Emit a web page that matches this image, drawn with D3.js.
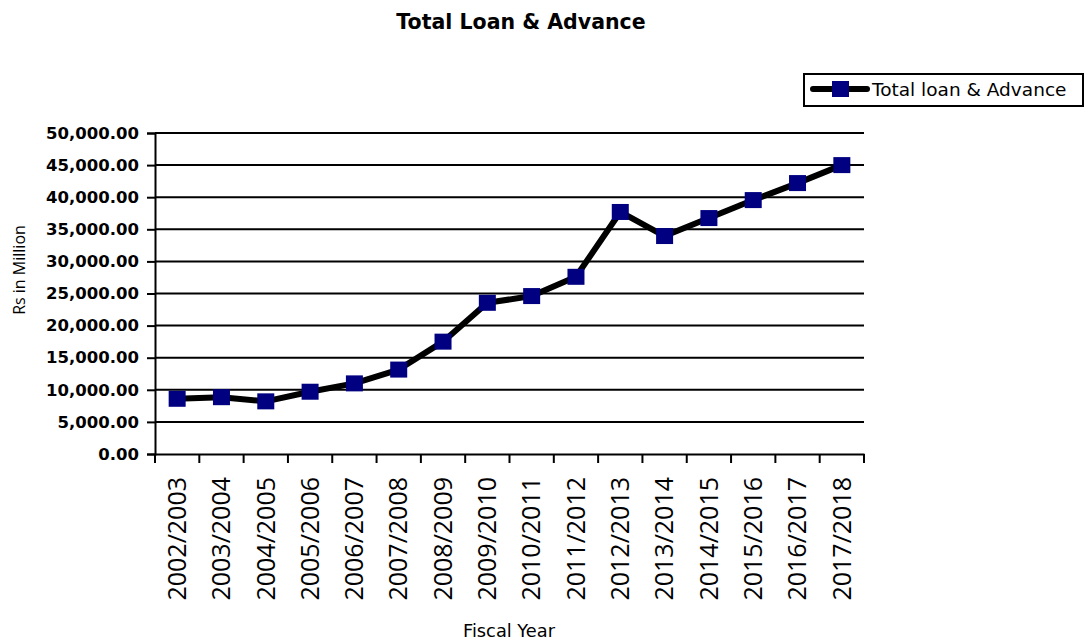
<!DOCTYPE html>
<html>
<head>
<meta charset="utf-8">
<script src="https://cdn.jsdelivr.net/npm/d3@7"></script>
<style>
  html, body { margin: 0; padding: 0; background: #fff; }
  svg { display: block; }
</style>
</head>
<body>
<svg id="chart" width="1087" height="643"></svg>
<script>
const categories = ["2002/2003","2003/2004","2004/2005","2005/2006","2006/2007","2007/2008","2008/2009","2009/2010","2010/2011","2011/2012","2012/2013","2013/2014","2014/2015","2015/2016","2016/2017","2017/2018"];
const loanValues = [8600, 8850, 8200, 9700, 11000, 13150, 17500, 23550, 24600, 27600, 37700, 33950, 36750, 39550, 42200, 45000];
const yTicks = [0, 5000, 10000, 15000, 20000, 25000, 30000, 35000, 40000, 45000, 50000];
const seriesName = "Total loan & Advance";
const titleText = "Total Loan & Advance";
const xTitle = "Fiscal Year";
const yTitle = "Rs in Million";

(function () {
const svg = d3.select("#chart");
const pLeft = 155, pRight = 864, pTop = 133, pBottom = 454;
const hFont = "'DejaVu Sans', sans-serif";
const vFont = "'Open Sans', sans-serif";

const x = d3.scaleBand().domain(categories).range([pLeft, pRight]);
const y = d3.scaleLinear().domain([0, 50000]).range([pBottom, pTop]);

// title
svg.append("text").attr("x", 521).attr("y", 29).attr("text-anchor", "middle")
  .attr("font-family", hFont).attr("font-weight", "bold").attr("font-size", 20.5)
  .text(titleText);

// gridlines
svg.append("g").selectAll("line").data(yTicks.filter(d => d > 0)).join("line")
  .attr("x1", pLeft).attr("x2", pRight).attr("y1", d => y(d)).attr("y2", d => y(d))
  .attr("stroke", "#000").attr("stroke-width", 2);

// y axis
const fmt = d3.format(",.2f");
const yAxis = svg.append("g").attr("transform", `translate(${pLeft},0)`)
  .call(d3.axisLeft(y).tickValues(yTicks).tickFormat(fmt).tickSize(8).tickPadding(8));
yAxis.select(".domain").attr("stroke", "#000").attr("stroke-width", 2);
yAxis.selectAll(".tick line").attr("stroke", "#000").attr("stroke-width", 2);
yAxis.selectAll(".tick text").attr("font-family", hFont).attr("font-weight", "bold")
  .attr("font-size", 16.5).attr("fill", "#000");

// x axis
const xAxis = svg.append("g").attr("transform", `translate(0,${pBottom})`)
  .call(d3.axisBottom(x).tickSize(0).tickFormat(d => d));
xAxis.select(".domain").attr("stroke", "#000").attr("stroke-width", 2);
const bounds = categories.map(c => x(c)).concat([pRight]);
xAxis.selectAll(".bound").data(bounds).join("line").attr("class", "bound")
  .attr("x1", d => d).attr("x2", d => d).attr("y1", 0).attr("y2", 9)
  .attr("stroke", "#000").attr("stroke-width", 2);
xAxis.selectAll(".tick text")
  .attr("font-family", vFont).attr("font-size", 25).attr("fill", "#000")
  .attr("transform", "rotate(-90)")
  .attr("text-anchor", "end").attr("dy", "0.35em").attr("x", -23).attr("y", 0);

// axis titles
svg.append("text").attr("x", 509).attr("y", 637).attr("text-anchor", "middle")
  .attr("font-family", hFont).attr("font-size", 17.8).text(xTitle);
svg.append("text").attr("transform", "translate(25,270) rotate(-90)").attr("text-anchor", "middle")
  .attr("font-family", vFont).attr("font-size", 16).text(yTitle);

// line
const line = d3.line().x((d, i) => x(categories[i]) + x.bandwidth() / 2).y(d => y(d));
svg.append("path").datum(loanValues).attr("d", line)
  .attr("fill", "none").attr("stroke", "#000").attr("stroke-width", 6)
  .attr("stroke-linejoin", "round").attr("stroke-linecap", "round");

// markers
svg.append("g").selectAll("rect").data(loanValues).join("rect")
  .attr("x", (d, i) => x(categories[i]) + x.bandwidth() / 2 - 8.5)
  .attr("y", d => y(d) - 8)
  .attr("width", 17).attr("height", 16).attr("fill", "#000080");

// legend
const lg = svg.append("g");
lg.append("rect").attr("x", 804).attr("y", 74).attr("width", 279).attr("height", 32)
  .attr("fill", "#fff").attr("stroke", "#000").attr("stroke-width", 2);
lg.append("line").attr("x1", 813).attr("x2", 867).attr("y1", 89).attr("y2", 89)
  .attr("stroke", "#000").attr("stroke-width", 6).attr("stroke-linecap", "round");
lg.append("rect").attr("x", 832).attr("y", 81).attr("width", 17).attr("height", 16).attr("fill", "#000080");
lg.append("text").attr("x", 872).attr("y", 96).attr("font-family", hFont).attr("font-size", 18.5)
  .text(seriesName);
})();
</script>
</body>
</html>
